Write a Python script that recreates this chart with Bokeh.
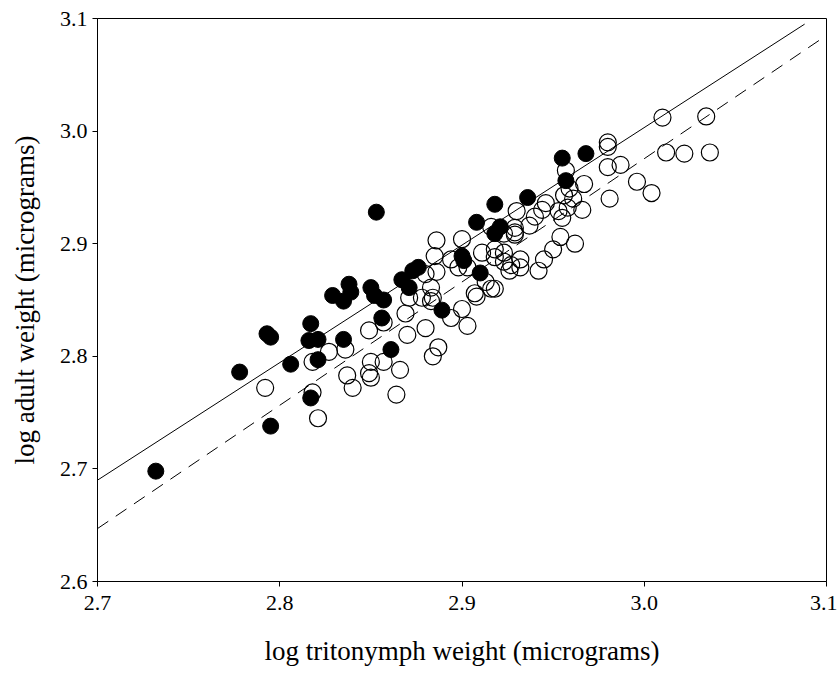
from bokeh.plotting import figure
from bokeh.models import FixedTicker, PrintfTickFormatter, ColumnDataSource
from bokeh.embed import file_html
from bokeh.resources import INLINE

# Tick values
x_ticks = [2.7, 2.8, 2.9, 3.0, 3.1]
y_ticks = [2.6, 2.7, 2.8, 2.9, 3.0, 3.1]

# Filled circles (log tritonymph weight, log adult weight)
filled_x = [2.732, 2.778, 2.793, 2.795, 2.795, 2.806, 2.817, 2.816, 2.821, 2.821,
            2.817, 2.829, 2.835, 2.838, 2.839, 2.850, 2.852, 2.857, 2.856, 2.835,
            2.861, 2.853, 2.867, 2.871, 2.873, 2.876, 2.889, 2.900, 2.901, 2.910,
            2.908, 2.918, 2.921, 2.918, 2.936, 2.955, 2.968, 2.957]
filled_y = [2.698, 2.786, 2.820, 2.817, 2.738, 2.793, 2.829, 2.814, 2.815, 2.797,
            2.763, 2.854, 2.849, 2.864, 2.857, 2.861, 2.854, 2.850, 2.834, 2.815,
            2.806, 2.928, 2.868, 2.861, 2.876, 2.879, 2.841, 2.889, 2.885, 2.874,
            2.919, 2.935, 2.915, 2.909, 2.941, 2.976, 2.980, 2.956]

# Open circles
open_x = [2.792, 2.818, 2.818, 2.821, 2.827, 2.836, 2.837, 2.840, 2.849, 2.857,
          2.850, 2.849, 2.850, 2.857, 2.866, 2.864, 2.869, 2.870, 2.880, 2.880,
          2.886, 2.885, 2.886, 2.871, 2.878, 2.883, 2.884, 2.883, 2.887, 2.884,
          2.894, 2.900, 2.903, 2.894, 2.900, 2.898, 2.903, 2.907, 2.908, 2.913,
          2.916, 2.918, 2.911, 2.916, 2.918, 2.918, 2.923, 2.923, 2.923, 2.929,
          2.929, 2.929, 2.930, 2.932, 2.932, 2.927, 2.926, 2.937, 2.940, 2.944,
          2.946, 2.942, 2.945, 2.950, 2.954, 2.962, 2.953, 2.955, 2.958, 2.961,
          2.956, 2.959, 2.957, 2.966, 2.967, 2.981, 2.980, 2.987, 2.980, 2.980,
          2.996, 3.004, 3.010, 3.034, 3.012, 3.022, 3.036]
open_y = [2.772, 2.795, 2.768, 2.745, 2.804, 2.806, 2.783, 2.772, 2.823, 2.830,
          2.795, 2.785, 2.781, 2.795, 2.788, 2.766, 2.838, 2.819, 2.825, 2.873,
          2.875, 2.889, 2.903, 2.852, 2.852, 2.861, 2.852, 2.849, 2.808, 2.800,
          2.834, 2.842, 2.827, 2.886, 2.904, 2.879, 2.879, 2.856, 2.853, 2.866,
          2.860, 2.860, 2.892, 2.915, 2.895, 2.888, 2.892, 2.884, 2.909, 2.914,
          2.910, 2.908, 2.929, 2.886, 2.879, 2.881, 2.876, 2.916, 2.924, 2.930,
          2.936, 2.876, 2.886, 2.895, 2.906, 2.900, 2.929, 2.923, 2.932, 2.940,
          2.943, 2.949, 2.965, 2.930, 2.953, 2.940, 2.968, 2.970, 2.990, 2.986,
          2.955, 2.945, 3.012, 3.013, 2.981, 2.980, 2.981]

# Fitted lines (end points)
solid_x = [2.7, 3.088]
solid_y = [2.690, 3.095]
dashed_x = [2.7, 3.1]
dashed_y = [2.647, 3.085]

FONT = "Liberation Serif"

p = figure(width=837, height=683, x_range=(2.7, 3.1), y_range=(2.6, 3.1),
           output_backend="svg", toolbar_location=None,
           min_border_left=97, min_border_right=11, min_border_top=18,
           min_border_bottom=102)
p.background_fill_color = "white"
p.border_fill_color = "white"
p.outline_line_color = "black"
p.outline_line_width = 1
p.xgrid.visible = False
p.ygrid.visible = False

for ax, ticks in ((p.xaxis, x_ticks), (p.yaxis, y_ticks)):
    ax.ticker = FixedTicker(ticks=ticks)
    ax.formatter = PrintfTickFormatter(format="%.1f")
    ax.minor_tick_line_color = None
    ax.major_tick_in = 0
    ax.major_tick_out = 5
    ax.axis_line_color = "black"
    ax.major_tick_line_color = "black"
    ax.major_label_text_font = FONT
    ax.major_label_text_font_size = "22px"
    ax.major_label_text_color = "black"
    ax.axis_label_text_font = FONT
    ax.axis_label_text_font_size = "27px"
    ax.axis_label_text_font_style = "normal"
    ax.axis_label_text_color = "black"

p.xaxis.axis_label = "log tritonymph weight (micrograms)"
p.yaxis.axis_label = "log adult weight (micrograms)"
p.xaxis.major_label_standoff = 9
p.yaxis.major_label_standoff = 5
p.xaxis.axis_label_standoff = 23
p.yaxis.axis_label_standoff = 17

p.line(solid_x, solid_y, line_color="black", line_width=1)
p.line(dashed_x, dashed_y, line_color="black", line_width=1, line_dash="13 9")

open_src = ColumnDataSource(data=dict(x=open_x, y=open_y))
filled_src = ColumnDataSource(data=dict(x=filled_x, y=filled_y))
p.scatter("x", "y", source=open_src, marker="circle", size=17,
          fill_alpha=0, line_color="black", line_width=1.2)
p.scatter("x", "y", source=filled_src, marker="circle", size=16,
          fill_color="black", line_color="black", line_width=1)

open("out.html", "w").write(file_html(p, INLINE))
